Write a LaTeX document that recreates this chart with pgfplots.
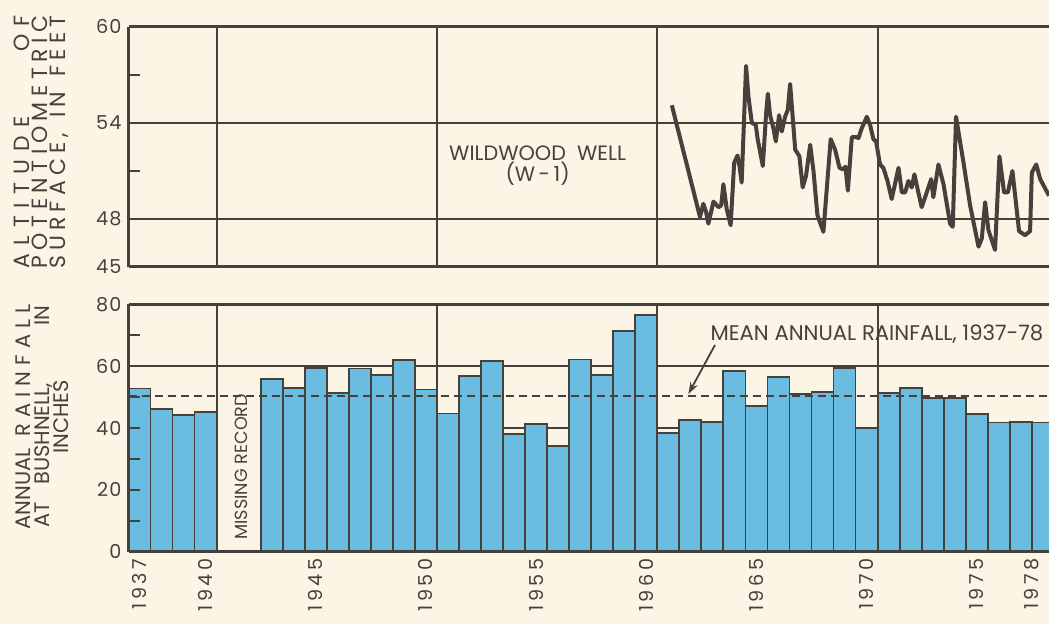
\documentclass[border=0pt]{standalone}
\usepackage{fontspec}
\setmainfont{Poppins}
\usepackage{graphicx}
\usepackage{pgfplots}
\pgfplotsset{compat=1.18}
\usetikzlibrary{arrows.meta}
\definecolor{paper}{RGB}{250,245,228}
\definecolor{ink}{RGB}{72,64,60}
\definecolor{barblue}{RGB}{106,188,224}
\newfontfamily\labB{Poppins}
\newfontfamily\ytickfont[LetterSpace=6]{Poppins}
\newfontfamily\xtickfont[LetterSpace=18]{Poppins}
\newcommand\ytickf{\ytickfont\fontsize{9.6}{10}\selectfont}
\newcommand\xtickf{\xtickfont\fontsize{9.6}{10}\selectfont}

\pgfplotsset{
 base/.style={
  scale only axis, width=460.25pt, anchor=south west,
  xmin=1937, xmax=1978.78,
  axis y line*=left, axis x line*=box,
  axis on top, tick align=inside,
  axis line style={ink, line width=1.2pt},
  tick style={ink, line width=0.9pt},
  major tick length=6pt, minor tick length=3.5pt,
  xtick=\empty, minor xtick={1938,1939,...,1978},
  yticklabel style={font=\ytickf, text=ink},
 },
 gridl/.style={ink, line width=0.9pt},
}

\begin{document}
\begin{tikzpicture}
\useasboundingbox (0,0) rectangle (524.5pt,312pt);
\fill[paper] (0,0) rectangle (524.5pt,312pt);

% ---------- top panel: hydrograph ----------
\begin{axis}[base, at={(64.25pt,178.65pt)}, height=120pt,
  ymin=45, ymax=60, ytick={45,48,51,54,57,60}, yticklabels={45,48,,54,,60}]
\addplot[gridl] coordinates {(1937,54) (1978.78,54)};
\addplot[gridl] coordinates {(1937,48) (1978.78,48)};
\addplot[gridl] coordinates {(1941,45) (1941,60)};
\addplot[gridl] coordinates {(1951,45) (1951,60)};
\addplot[gridl] coordinates {(1961,45) (1961,60)};
\addplot[gridl] coordinates {(1971,45) (1971,60)};
\addplot[ink, line width=2pt, line join=round] coordinates {
(1961.66,55.09) (1962.94,48.10) (1963.09,48.93) (1963.21,48.45) (1963.32,47.69)
(1963.55,49.07) (1963.78,48.72) (1963.90,48.82) (1964.00,50.16) (1964.15,48.62)
(1964.33,47.59) (1964.49,51.49) (1964.64,51.95) (1964.73,51.29) (1964.83,50.26)
(1965.03,57.55) (1965.14,55.60) (1965.29,54.00) (1965.47,53.86) (1965.55,53.03)
(1965.79,51.29) (1965.94,54.58) (1966.02,55.81) (1966.12,54.47) (1966.27,53.65)
(1966.38,52.83) (1966.53,54.47) (1966.65,53.45) (1966.80,54.37) (1966.92,54.78)
(1967.03,56.42) (1967.26,52.32) (1967.45,51.90) (1967.60,49.95) (1967.75,50.67)
(1967.94,52.62) (1968.09,50.98) (1968.27,48.21) (1968.54,47.18) (1968.87,52.97)
(1969.07,52.32) (1969.27,51.19) (1969.42,51.08) (1969.54,51.25) (1969.65,49.75)
(1969.83,53.10) (1970.05,53.10) (1970.13,53.03) (1970.28,53.65) (1970.51,54.37)
(1970.66,53.86) (1970.81,52.97) (1970.93,52.83) (1971.11,51.39) (1971.26,51.18)
(1971.45,50.36) (1971.64,49.23) (1971.95,51.18) (1972.10,49.64) (1972.25,49.64)
(1972.40,50.36) (1972.55,49.95) (1972.67,50.77) (1972.85,49.64) (1973.00,48.72)
(1973.23,49.64) (1973.43,50.47) (1973.53,49.34) (1973.76,51.39) (1973.99,50.16)
(1974.29,47.69) (1974.41,47.49) (1974.56,54.37) (1974.90,51.49) (1975.20,48.82)
(1975.58,46.25) (1975.73,46.77) (1975.88,49.03) (1976.03,47.28) (1976.33,46.05)
(1976.53,51.90) (1976.74,49.64) (1976.91,49.64) (1977.12,50.98) (1977.42,47.22)
(1977.69,46.97) (1977.92,47.22) (1978.00,50.88) (1978.20,51.39) (1978.38,50.47)
(1978.78,49.44)};
\node[align=center, text=ink, font={\labB\fontsize{10.4}{10.5}\selectfont}]
  at (axis cs:1955.57,51.3) {WILDWOOD\ \ WELL\\(W\,-\,1)};
\end{axis}

% ---------- bottom panel: rainfall ----------
\begin{axis}[base, at={(64.25pt,36.15pt)}, height=123.6pt,
  ymin=0, ymax=80, ytick={0,10,...,80}, yticklabels={0,,20,,40,,60,,80}]
\addplot[gridl] coordinates {(1937,60) (1978.78,60)};
\addplot[gridl] coordinates {(1943,40) (1978.78,40)};
\addplot[gridl] coordinates {(1941,0) (1941,80)};
\addplot[gridl] coordinates {(1951,0) (1951,80)};
\addplot[gridl] coordinates {(1961,0) (1961,80)};
\addplot[gridl] coordinates {(1971,0) (1971,80)};
\addplot[ybar interval, fill=barblue, draw=ink, line width=0.9pt] coordinates {
(1937,52.8) (1938,46.3) (1939,44.2) (1940,45.1) (1941,45.1)};
\addplot[ybar interval, fill=barblue, draw=ink, line width=0.9pt] coordinates {
(1943,56.0) (1944,53.0) (1945,59.5) (1946,51.4) (1947,59.3) (1948,57.2)
(1949,62.1) (1950,52.5) (1951,44.7) (1952,56.9) (1953,61.7) (1954,38.0)
(1955,41.2) (1956,34.3) (1957,62.2) (1958,57.1) (1959,71.4) (1960,76.7)
(1961,38.3) (1962,42.6) (1963,42.0) (1964,58.5) (1965,47.2) (1966,56.6)
(1967,51.0) (1968,51.7) (1969,59.4) (1970,40.1) (1971,51.4) (1972,52.9)
(1973,49.7) (1974,49.7) (1975,44.6) (1976,41.8) (1977,42.0) (1978,41.8)
(1979,41.8)};
\addplot[ink, line width=1pt, dash pattern=on 4pt off 2.5pt] coordinates {(1937,50.4) (1978.78,50.4)};
\node[rotate=90, text=ink, font={\labB\fontsize{8.8}{9}\selectfont}]
  at (axis cs:1942.1,27.5) {MISSING RECORD};
\node[anchor=west, text=ink, inner sep=0pt, font={\labB\fontsize{10.6}{10}\selectfont}]
  at (axis cs:1963.4,70.3) {MEAN ANNUAL RAINFALL, 1937-78};
\draw[ink, line width=0.9pt, -{Stealth[length=6pt,width=4pt]}]
  (axis cs:1963.62,66.9) -- (axis cs:1962.41,51.0);
\end{axis}

% ---------- x labels (centred under the bars) ----------
\begin{axis}[scale only axis, width=460.25pt, height=123.6pt, anchor=south west,
  at={(64.25pt,36.15pt)}, xmin=1937, xmax=1978.78, ymin=0, ymax=80,
  hide y axis, axis x line*=bottom, x axis line style={draw=none},
  tick style={draw=none},
  xtick={1937.5,1940.5,1945.5,1950.5,1955.5,1960.5,1965.5,1970.5,1975.5,1978.0},
  xticklabels={1937,1940,1945,1950,1955,1960,1965,1970,1975,1978},
  xticklabel style={font=\xtickf, text=ink, rotate=90, anchor=east}]
\addplot[draw=none] coordinates {(1937,0)};
\end{axis}

% ---------- y labels ----------
\node[rotate=90, align=center, text=ink, inner sep=0pt,
  font={\labB\fontsize{11}{9}\selectfont\lineskiplimit=-20pt}] at (20.5pt,241pt)
  {\makebox[126.5pt][s]{A\hfil L\hfil T\hfil I\hfil T\hfil U\hfil D\hfil E\hskip0pt plus 8fil O\hfil F}\\
   \makebox[126.5pt][s]{P\hfil O\hfil T\hfil E\hfil N\hfil T\hfil I\hfil O\hfil M\hfil E\hfil T\hfil R\hfil I\hfil C}\\
   \makebox[126.5pt][s]{S\hfil U\hfil R\hfil F\hfil A\hfil C\hfil E\hfil ,\hskip0pt plus 3fil I\hfil N\hskip0pt plus 3fil F\hfil E\hfil E\hfil T}};
\node[rotate=90, align=center, text=ink, inner sep=0pt,
  font={\labB\fontsize{10.5}{9.6}\selectfont\lineskiplimit=-20pt}] at (21pt,103.5pt)
  {\makebox[112.5pt][s]{ANNUAL\hskip 3pt plus 1fil R\hfil A\hfil I\hfil N\hfil F\hfil A\hfil L\hfil L}\\
   \makebox[111pt][s]{AT\hskip 4pt plus 0.2fil BUSHNELL,\hskip 4pt plus 1fil IN}\\
   INCHES};
\end{tikzpicture}
\end{document}
